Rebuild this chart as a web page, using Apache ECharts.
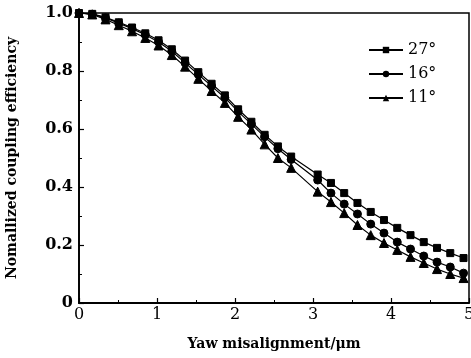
<!DOCTYPE html>
<html>
  <head>
    <meta charset="utf-8">
    <title>Coupling efficiency vs yaw misalignment</title>
    <style>
      html, body { margin: 0; padding: 0; background: #fff; }
    </style>
  </head>
  <body>
    <div id="main" style="width: 471px;height:358px;"></div>

  <script src="https://cdn.jsdelivr.net/npm/echarts@6/dist/echarts.min.js" charset="utf-8"></script>
  <script type="text/javascript">
  // yaw misalignment (um); no marker near 2.9
  var xs = [0, 0.17, 0.34, 0.51, 0.68, 0.85, 1.02, 1.19, 1.36, 1.53, 1.70, 1.87, 2.04, 2.21,
            2.38, 2.55, 2.72, 3.06, 3.23, 3.40, 3.57, 3.74, 3.91, 4.08, 4.25, 4.42, 4.59, 4.76, 4.93];

  var seriesNames = ['27°', '16°', '11°'];
  var symbols = ['rect', 'circle', 'triangle'];

  var eff27 = [1.0, 0.997, 0.985, 0.968, 0.950, 0.930, 0.906, 0.875, 0.836, 0.796, 0.756, 0.716, 0.668, 0.625,
               0.580, 0.540, 0.505, 0.443, 0.414, 0.379, 0.345, 0.314, 0.286, 0.259, 0.234, 0.210, 0.190, 0.172, 0.155];
  var eff16 = [1.0, 0.996, 0.983, 0.965, 0.946, 0.925, 0.900, 0.868, 0.828, 0.788, 0.748, 0.708, 0.660, 0.617,
               0.573, 0.532, 0.495, 0.424, 0.379, 0.341, 0.307, 0.272, 0.241, 0.210, 0.186, 0.162, 0.141, 0.124, 0.103];
  var eff11 = [1.0, 0.995, 0.978, 0.958, 0.937, 0.914, 0.888, 0.855, 0.815, 0.773, 0.731, 0.690, 0.642, 0.598,
               0.547, 0.500, 0.466, 0.384, 0.348, 0.310, 0.269, 0.234, 0.207, 0.183, 0.159, 0.138, 0.117, 0.100, 0.086];

  var xTickLabels = ['0', '1', '2', '3', '4', '5'];
  var yTickLabels = ['0', '0.2', '0.4', '0.6', '0.8', '1.0'];

  function pairs(ys) {
    return xs.map(function (x, i) { return [x, ys[i]]; });
  }

  var font = "'DejaVu Serif', 'Liberation Serif', serif";

  var myChart = echarts.init(document.getElementById('main'));

  var option = {
    backgroundColor: '#fff',
    animation: false,
    grid: {
      left: 79,
      top: 13,
      width: 390,
      height: 290,
      show: true,
      borderColor: '#000',
      borderWidth: 1.5,
      containLabel: false,
      outerBoundsMode: 'none'
    },
    legend: {
      orient: 'vertical',
      left: 363,
      top: 36,
      itemWidth: 34,
      itemHeight: 8,
      itemGap: 6,
      data: seriesNames,
      textStyle: {
        fontFamily: font,
        fontSize: 16,
        lineHeight: 18,
        color: '#000'
      }
    },
    xAxis: {
      type: 'value',
      min: 0,
      max: 5,
      interval: 1,
      name: 'Yaw misalignment/μm',
      nameLocation: 'middle',
      nameGap: 34,
      nameTextStyle: {
        fontFamily: font,
        fontSize: 14,
        fontWeight: 'bold',
        color: '#000'
      },
      axisLine: { lineStyle: { color: '#000', width: 1.8 } },
      axisTick: { inside: true, length: 5, lineStyle: { color: '#000', width: 1.2 } },
      minorTick: { show: true, splitNumber: 2, length: 3, lineStyle: { color: '#000', width: 1 } },
      splitLine: { show: false },
      axisLabel: {
        margin: 4,
        fontFamily: font,
        fontSize: 16,
        color: '#000',
        formatter: function (v) { return xTickLabels[Math.round(v)]; }
      }
    },
    yAxis: {
      type: 'value',
      min: 0,
      max: 1,
      interval: 0.2,
      name: 'Nomallized coupling efficiency',
      nameLocation: 'middle',
      nameGap: 60,
      nameTextStyle: {
        fontFamily: font,
        fontSize: 14,
        fontWeight: 'bold',
        color: '#000'
      },
      axisLine: { show: true, lineStyle: { color: '#000', width: 1.8 } },
      axisTick: { show: true, inside: true, length: 5, lineStyle: { color: '#000', width: 1.2 } },
      minorTick: { show: true, splitNumber: 2, length: 3, lineStyle: { color: '#000', width: 1 } },
      splitLine: { show: false },
      axisLabel: {
        margin: 6,
        fontFamily: font,
        fontSize: 16,
        fontWeight: 'bold',
        color: '#000',
        formatter: function (v) { return yTickLabels[Math.round(v / 0.2)]; }
      }
    },
    series: [eff27, eff16, eff11].map(function (ys, i) {
      return {
        name: seriesNames[i],
        type: 'line',
        data: pairs(ys),
        symbol: symbols[i],
        symbolSize: [7, 8, 9][i],
        showSymbol: true,
        lineStyle: { color: '#000', width: 1.2 },
        itemStyle: { color: '#000', borderColor: '#000' }
      };
    })
  };
  myChart.setOption(option);
  </script>
  </body>
</html>
